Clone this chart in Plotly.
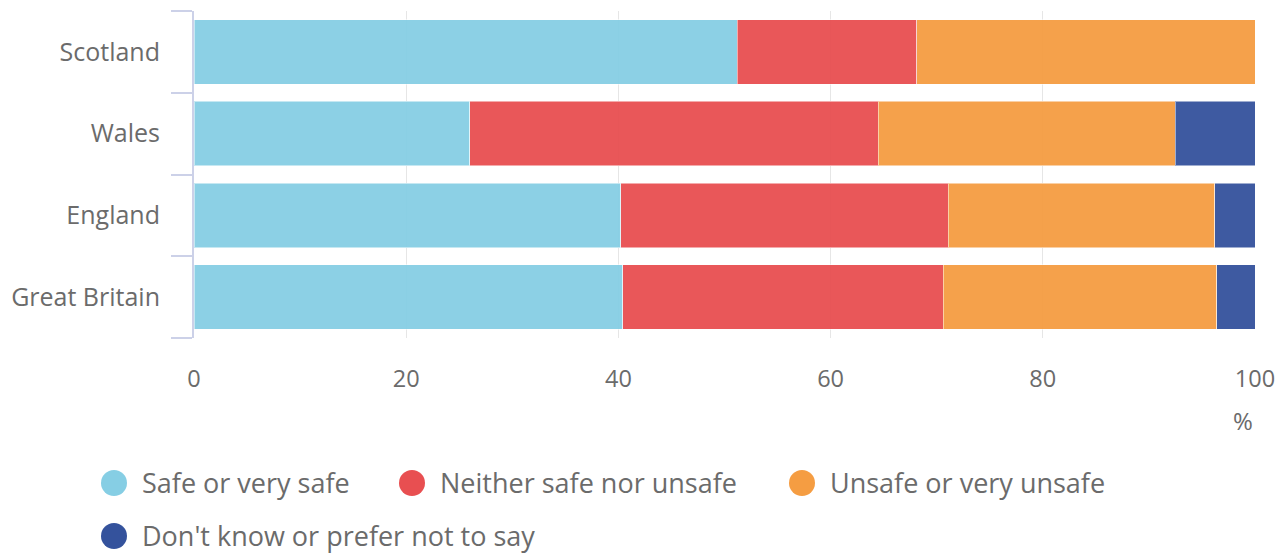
import plotly.graph_objects as go

categories = ["Great Britain", "England", "Wales", "Scotland"]
series_names = ["Safe or very safe", "Neither safe nor unsafe", "Unsafe or very unsafe", "Don't know or prefer not to say"]
safe = [40.4, 40.2, 26.0, 51.2]
neither = [30.2, 30.9, 38.5, 16.9]
unsafe = [25.8, 25.1, 28.0, 31.9]
dont_know = [3.6, 3.8, 7.5, 0.0]
colors = ["#86CEE4", "#E84F51", "#F59D42", "#34529C"]
x_ticks = [0, 20, 40, 60, 80, 100]

OFF = 8  # page body margin
W, H = 1284 - OFF, 553 - OFF
ML, MR, MT, MB = 194 - OFF, 29, 11 - OFF, 215
PW = W - ML - MR
PH = H - MT - MB

fig = go.Figure()
for name, vals, col in zip(series_names, [safe, neither, unsafe, dont_know], colors):
    fig.add_trace(go.Bar(
        y=categories, x=vals, name=name, orientation="h",
        marker=dict(color=col, opacity=0.95, line=dict(width=1, color="rgba(255,255,255,0.5)")),
        showlegend=False,
    ))

font_col = "#6b6b6b"
fig.update_layout(
    width=W, height=H,
    margin=dict(l=ML, r=MR, t=MT, b=MB),
    barmode="stack", bargap=0.21,
    plot_bgcolor="white", paper_bgcolor="white",
    font=dict(family="Open Sans", size=24, color=font_col),
    xaxis=dict(range=[0, 100], tickvals=x_ticks, showgrid=True, gridcolor="#e6e6e6",
               gridwidth=1, zeroline=False, showline=False, ticks="outside",
               ticklen=20, tickcolor="rgba(0,0,0,0)",
               tickfont=dict(size=23.5, color=font_col)),
    yaxis=dict(showline=True, linecolor="#ccd1e8", linewidth=2, ticks="outside",
               tickson="boundaries", ticklen=21, tickcolor="#ccd1e8", tickwidth=2,
               ticklabelstandoff=27,
               showgrid=False, tickfont=dict(size=25, color=font_col)),
)

def px_to_paper_x(px):
    return (px - OFF - ML) / PW

def py_to_paper_y(py):
    return (H - MB - (py - OFF)) / PH

fig.add_annotation(text="%", xref="paper", yref="paper", x=px_to_paper_x(1255),
                   y=py_to_paper_y(421), xanchor="right", yanchor="middle",
                   showarrow=False, font=dict(size=24, color=font_col))

legend_pos = [(114, 483), (412, 483), (802, 483), (114, 536)]
for (cx, cy), name, col in zip(legend_pos, series_names, colors):
    fig.add_shape(type="circle", xref="paper", yref="paper",
                  xsizemode="pixel", ysizemode="pixel",
                  xanchor=px_to_paper_x(cx), yanchor=py_to_paper_y(cy),
                  x0=-13, x1=13, y0=-13, y1=13,
                  fillcolor=col, line=dict(width=0))
    fig.add_annotation(text=name, xref="paper", yref="paper",
                       x=px_to_paper_x(cx + 27), y=py_to_paper_y(cy - 1),
                       xanchor="left", yanchor="middle", showarrow=False,
                       borderpad=0,
                       font=dict(size=27, color=font_col))

fig.write_html("out.html")
